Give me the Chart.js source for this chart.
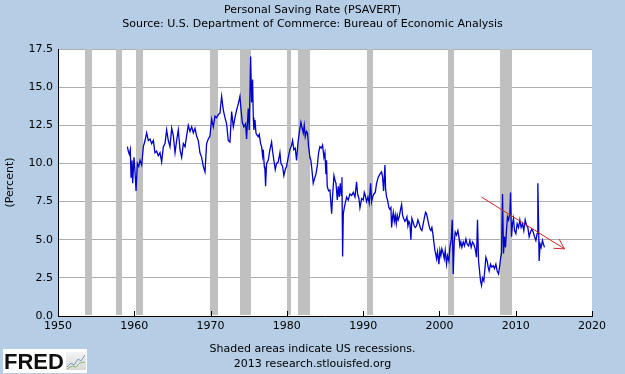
<!DOCTYPE html>
<html>
<head>
<meta charset="utf-8">
<script src="https://cdn.jsdelivr.net/npm/chart.js@4.4.1/dist/chart.umd.min.js"></script>
<style>
  html, body { margin: 0; padding: 0; background: #B5CDE5; }
  #wrap { width: 625px; height: 374px; position: relative; }
</style>
</head>
<body>
<div id="wrap"><canvas id="c" width="625" height="374"></canvas></div>
<script>
// ---- Data ----
const titleLines = ['Personal Saving Rate (PSAVERT)', 'Source: U.S. Department of Commerce: Bureau of Economic Analysis'];
const footerLines = ['Shaded areas indicate US recessions.', '2013 research.stlouisfed.org'];
const yAxisTitle = '(Percent)';
const seriesLabel = 'PSAVERT';

const years = [
  1959.09,1959.22,1959.35,1959.48,1959.57,1959.70,1959.79,1959.96,1960.09,1960.23,
  1960.40,1960.58,1960.75,1960.97,1961.19,1961.41,1961.62,1961.84,1962.06,1962.28,
  1962.50,1962.71,1962.93,1963.15,1963.37,1963.59,1963.81,1964.03,1964.24,1964.46,
  1964.68,1964.90,1965.12,1965.34,1965.55,1965.77,1965.99,1966.21,1966.43,1966.65,
  1966.86,1967.08,1967.30,1967.52,1967.74,1967.96,1968.17,1968.39,1968.61,1968.83,
  1969.05,1969.27,1969.48,1969.70,1969.92,1970.14,1970.36,1970.58,1970.79,1971.01,
  1971.23,1971.45,1971.67,1971.89,1972.10,1972.32,1972.54,
  1972.76,1972.98,1973.20,1973.41,1973.63,1973.85,1973.98,1974.16,1974.37,1974.59,
  1974.72,1974.94,1975.07,1975.25,1975.38,1975.51,1975.60,1975.68,1975.82,1975.95,
  1976.03,1976.25,1976.38,1976.56,1976.69,1976.82,1976.91,1977.04,1977.13,1977.21,
  1977.34,1977.56,1977.78,1978.00,1978.13,1978.30,1978.48,1978.65,1978.87,1979.09,
  1979.22,1979.44,1979.61,1979.79,1979.96,1980.18,1980.40,1980.62,1980.75,1980.92,
  1981.10,1981.27,1981.49,1981.71,1981.84,1981.97,1982.15,1982.28,1982.41,1982.58,
  1982.71,1982.85,1983.02,1983.15,1983.28,1983.46,1983.63,1983.81,1983.98,1984.16,
  1984.33,1984.51,1984.68,1984.86,1984.99,1985.12,1985.20,1985.29,1985.47,
  1985.65,1985.87,1986.00,1986.17,1986.31,1986.44,1986.61,1986.74,1986.87,1987.00,
  1987.13,1987.22,1987.31,1987.40,1987.53,1987.70,1987.83,1988.05,1988.27,1988.49,
  1988.71,1988.93,1989.14,1989.27,1989.45,1989.58,1989.80,1990.02,1990.15,1990.28,
  1990.45,1990.63,1990.80,1990.98,1991.11,1991.24,1991.41,1991.59,1991.76,1991.98,
  1992.20,1992.42,1992.55,1992.68,1992.86,1992.94,1993.07,1993.20,1993.38,1993.51,
  1993.64,1993.73,1993.86,1993.95,1994.08,1994.21,1994.34,1994.47,1994.60,1994.73,
  1994.91,1995.04,1995.17,1995.30,1995.48,1995.61,1995.74,1995.87,1996.00,1996.13,
  1996.26,1996.39,1996.52,1996.70,1996.83,1997.00,1997.18,1997.35,1997.53,1997.70,
  1997.88,1998.05,1998.18,1998.31,1998.44,1998.58,1998.75,1998.88,1999.01,1999.14,
  1999.27,1999.41,1999.54,
  1999.62,1999.75,1999.93,2000.06,2000.19,2000.32,2000.50,2000.63,2000.76,2000.93,
  2001.06,2001.24,2001.37,2001.54,2001.68,2001.81,2001.94,2002.07,2002.24,2002.42,
  2002.55,2002.68,2002.81,2002.94,2003.12,2003.29,2003.47,2003.64,2003.82,2003.99,
  2004.16,2004.34,2004.51,2004.69,2004.86,2004.99,2005.13,2005.30,2005.39,2005.52,
  2005.65,2005.82,2005.96,2006.09,2006.26,2006.39,2006.52,2006.70,2006.87,2007.05,
  2007.22,2007.40,2007.57,2007.75,2007.88,2008.01,2008.14,2008.27,2008.40,2008.53,
  2008.66,2008.79,2008.92,2009.06,2009.23,2009.32,2009.45,2009.58,2009.71,2009.84,
  2010.02,2010.19,2010.37,2010.54,2010.71,2010.89,2011.06,2011.24,2011.41,2011.59,
  2011.76,2011.94,2012.11,2012.29,2012.46,2012.64,2012.81,2012.90,2012.99,2013.07,
  2013.20,2013.33,2013.51,2013.64,2013.77
];

const rates = [
  11.1,10.8,10.6,10.9,9.1,10.2,8.7,10.4,9.5,8.2,
  10.0,9.8,10.2,9.9,11.1,11.5,12.0,11.5,11.6,11.3,
  11.5,10.7,10.8,10.5,10.7,10.1,11.1,11.3,12.2,11.5,
  11.1,12.3,11.8,10.7,11.5,12.2,10.9,10.4,11.3,11.1,
  11.8,12.5,12.1,12.4,12.0,12.3,11.8,11.5,10.7,10.4,
  9.8,9.45,11.3,11.6,11.8,12.9,12.4,13.1,13.0,13.2,
  13.3,14.4,13.5,13.0,12.6,11.5,11.4,
  13.4,12.4,13.0,13.5,13.9,14.4,13.6,12.7,12.4,12.6,
  11.6,13.6,12.2,17.0,14.0,15.5,13.0,12.2,12.85,12.0,
  11.9,11.75,11.9,11.3,11.1,10.5,10.9,9.8,9.6,8.5,
  10.0,10.2,10.9,11.4,10.8,10.2,9.6,10.0,10.1,10.7,
  10.0,9.8,9.2,9.6,9.8,10.4,10.9,11.2,11.5,10.9,
  11.0,10.2,11.5,12.3,12.7,12.4,12.0,12.5,11.75,12.1,
  12.0,11.1,10.4,10.2,9.6,8.7,9.0,9.3,9.8,10.7,
  11.1,11.0,11.2,10.4,10.7,9.3,10.2,8.5,8.2,
  8.25,6.7,7.9,9.2,8.9,8.7,7.6,8.5,7.8,8.7,
  7.9,9.1,3.9,6.7,7.1,7.5,7.8,7.6,8.0,7.9,
  8.1,7.8,8.8,8.0,7.7,7.1,7.7,7.6,8.1,7.9,
  7.5,7.8,7.4,8.7,7.5,7.8,8.0,8.1,8.7,9.1,
  9.3,9.45,9.1,8.2,9.9,8.35,7.8,7.6,7.1,7.0,
  7.1,5.8,6.5,6.8,6.2,6.6,6.05,6.6,6.3,6.5,
  7.0,7.3,6.6,6.4,6.2,6.3,6.5,5.9,6.2,6.05,
  5.0,6.4,6.2,5.9,5.8,5.9,6.3,6.05,5.7,5.6,
  6.05,6.5,6.8,6.7,6.4,6.05,5.7,5.6,5.8,5.4,
  4.85,4.3,4.0,
  3.75,4.2,3.4,4.3,3.95,4.4,4.1,3.75,4.3,3.4,
  3.95,3.6,4.5,4.95,6.3,2.75,4.85,5.5,5.3,5.6,
  5.2,4.6,4.85,4.5,4.85,4.6,5.05,4.7,4.6,4.95,
  4.5,4.85,4.7,4.4,3.85,6.3,3.6,2.75,2.3,2.0,
  2.5,2.3,3.1,3.85,3.6,3.2,2.95,3.4,3.2,3.3,
  3.1,3.4,2.95,2.75,3.2,3.75,4.1,8.0,4.1,5.2,
  4.5,5.6,6.5,6.3,6.7,8.1,5.2,6.05,6.4,5.6,
  5.4,6.05,5.8,6.3,5.8,6.05,5.6,6.3,5.95,5.8,
  5.2,5.5,5.7,5.5,5.2,4.95,5.4,8.7,6.3,3.6,
  4.7,4.5,4.95,4.7,4.5
];

// NBER recessions (start, end) in decimal years
const recessionStarts = [1953.55, 1957.6, 1960.25, 1969.92, 1973.85, 1980.0, 1981.5, 1990.5, 2001.15, 2007.92];
const recessionEnds   = [1954.42, 1958.35, 1961.15, 1970.92, 1975.25, 1980.6, 1983.0, 1991.25, 2001.9, 2009.5];

// Hand-drawn trend arrow endpoints (year, percent)
const arrowFrom = [2005.5, 7.8];
const arrowTo   = [2016.4, 4.4];

const xMin = 1950, xMax = 2020, xStep = 10;
const yMin = 0, yMax = 17.5, yStep = 2.5;

// ---- Chart ----
const BG = '#B5CDE5';
const FONT = 'DejaVu Sans';

const fredPlugin = {
  id: 'fredExtras',
  beforeDraw(chart) {
    const { ctx, chartArea: a } = chart;
    ctx.save();
    ctx.fillStyle = BG;
    ctx.fillRect(0, 0, chart.width, chart.height);
    ctx.fillStyle = '#FFFFFF';
    ctx.fillRect(a.left, a.top, a.right - a.left, a.bottom - a.top);
    ctx.restore();
  },
  beforeDatasetsDraw(chart) {
    const { ctx, chartArea: a, scales: { x } } = chart;
    ctx.save();
    ctx.fillStyle = '#C0C0C0';
    recessionStarts.forEach((s, i) => {
      const x0 = Math.round(x.getPixelForValue(s));
      const x1 = Math.round(x.getPixelForValue(recessionEnds[i]));
      ctx.fillRect(x0, a.top, Math.max(1, x1 - x0), a.bottom - a.top - 1);
    });
    ctx.restore();
  },
  afterDatasetsDraw(chart) {
    const { ctx, scales: { x, y } } = chart;
    const x0 = x.getPixelForValue(arrowFrom[0]), y0 = y.getPixelForValue(arrowFrom[1]);
    const x1 = x.getPixelForValue(arrowTo[0]), y1 = y.getPixelForValue(arrowTo[1]);
    const ang = Math.atan2(y1 - y0, x1 - x0);
    const len = 11, spread = Math.PI / 6.2;
    ctx.save();
    ctx.strokeStyle = '#D02828';
    ctx.lineWidth = 1;
    ctx.beginPath();
    ctx.moveTo(x0, y0);
    ctx.lineTo(x1, y1);
    ctx.moveTo(x1 - len * Math.cos(ang - spread), y1 - len * Math.sin(ang - spread));
    ctx.lineTo(x1, y1);
    ctx.lineTo(x1 - len * Math.cos(ang + spread), y1 - len * Math.sin(ang + spread));
    ctx.stroke();
    ctx.restore();
  },
  afterDraw(chart) {
    const { ctx, chartArea: a, scales: { x } } = chart;
    ctx.save();
    // inward tick marks on x axis
    ctx.strokeStyle = '#000';
    ctx.lineWidth = 1;
    ctx.beginPath();
    for (let v = xMin; v <= xMax; v += xStep) {
      const px = Math.round(x.getPixelForValue(v)) + 0.5;
      ctx.moveTo(px, a.bottom);
      ctx.lineTo(px, a.bottom - 5);
    }
    ctx.stroke();
    // FRED logo
    ctx.fillStyle = '#FFFFFF';
    ctx.fillRect(3, 349, 84, 24);
    ctx.fillStyle = '#111';
    ctx.font = 'bold 22px "Liberation Sans"';
    ctx.textBaseline = 'alphabetic';
    ctx.textAlign = 'left';
    ctx.fillText('FRED', 4, 369);
    // small chart icon
    const g = ctx.createLinearGradient(66, 352, 66, 370);
    g.addColorStop(0, '#F4F4F4');
    g.addColorStop(1, '#D8D8D8');
    ctx.fillStyle = g;
    ctx.fillRect(66, 352, 20, 18);
    ctx.strokeStyle = '#7A9CC6';
    ctx.beginPath();
    ctx.moveTo(67, 367); ctx.lineTo(71, 363); ctx.lineTo(74, 365); ctx.lineTo(78, 359); ctx.lineTo(81, 361); ctx.lineTo(85, 355);
    ctx.stroke();
    ctx.strokeStyle = '#8DB870';
    ctx.beginPath();
    ctx.moveTo(67, 369); ctx.lineTo(72, 366); ctx.lineTo(76, 367); ctx.lineTo(80, 363); ctx.lineTo(85, 362);
    ctx.stroke();
    ctx.restore();
  }
};

const points = years.map((yr, i) => ({ x: yr, y: rates[i] }));

new Chart(document.getElementById('c'), {
  type: 'line',
  data: {
    datasets: [{
      label: seriesLabel,
      data: points,
      borderColor: '#0000CC',
      borderWidth: 1.3,
      pointRadius: 0,
      tension: 0,
      fill: false
    }]
  },
  options: {
    responsive: false,
    animation: false,
    devicePixelRatio: 1,
    layout: { padding: 0 },
    plugins: {
      legend: { display: false },
      tooltip: { enabled: false },
      title: {
        display: true,
        text: titleLines,
        color: '#000',
        font: { family: FONT, size: 11, weight: 'normal', lineHeight: 14 / 11 },
        padding: { top: 3, bottom: 18 }
      },
      subtitle: {
        display: true,
        position: 'bottom',
        text: footerLines,
        color: '#000',
        font: { family: FONT, size: 11, weight: 'normal', lineHeight: 15 / 11 },
        padding: { top: 5.5, bottom: 2.5 }
      }
    },
    scales: {
      x: {
        type: 'linear',
        min: xMin, max: xMax,
        grid: { display: true, drawOnChartArea: false, drawTicks: false },
        border: { display: true, color: '#000', width: 1 },
        ticks: {
          stepSize: xStep, autoSkip: false, maxRotation: 0, padding: 4,
          color: '#000', font: { family: FONT, size: 11 },
          callback: v => String(v)
        },
        afterFit: s => { s.height = 20; }
      },
      y: {
        type: 'linear',
        min: yMin, max: yMax,
        grid: { color: '#ADADAD', lineWidth: 1, drawTicks: false },
        border: { display: true, color: '#000', width: 1 },
        ticks: {
          stepSize: yStep, padding: 5,
          color: '#000', font: { family: FONT, size: 11 },
          callback: v => v.toFixed(1)
        },
        title: {
          display: true, text: yAxisTitle, color: '#000',
          font: { family: FONT, size: 11 }, padding: { top: 4, bottom: 0 }
        },
        afterFit: s => { s.width = 58; }
      },
      yR: {
        position: 'right',
        display: true,
        grid: { display: false },
        border: { display: false },
        ticks: { display: false },
        afterFit: s => { s.width = 33; }
      }
    }
  },
  plugins: [fredPlugin]
});
</script>
</body>
</html>
